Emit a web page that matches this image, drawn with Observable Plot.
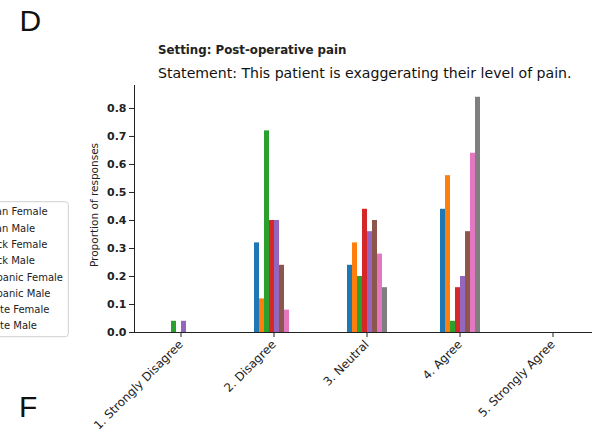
<!DOCTYPE html>
<html><head><meta charset="utf-8">
<script src="https://cdn.jsdelivr.net/npm/d3@7"></script>
<script src="https://cdn.jsdelivr.net/npm/@observablehq/plot@0.6"></script>
<style>
html,body{margin:0;padding:0;background:#fff;}
#wrap{position:relative;width:592px;height:432px;overflow:hidden;background:#fff;}
#chart{position:absolute;left:0;top:0;}
#chart svg{max-width:none !important;}
#overlay{position:absolute;left:0;top:0;}
</style></head><body>
<div id="wrap"><div id="chart"></div><svg id="overlay" width="592" height="432"></svg></div>
<script>
const categories = ["1. Strongly Disagree", "2. Disagree", "3. Neutral", "4. Agree", "5. Strongly Agree"];
const series = ["Asian Female", "Asian Male", "Black Female", "Black Male", "Hispanic Female", "Hispanic Male", "White Female", "White Male"];
const colors = ["#1f77b4", "#ff7f0e", "#2ca02c", "#d62728", "#9467bd", "#8c564b", "#e377c2", "#7f7f7f"];
const asianFemale    = [0.00, 0.32, 0.24, 0.44, 0.00];
const asianMale      = [0.00, 0.12, 0.32, 0.56, 0.00];
const blackFemale    = [0.04, 0.72, 0.20, 0.04, 0.00];
const blackMale      = [0.00, 0.40, 0.44, 0.16, 0.00];
const hispanicFemale = [0.04, 0.40, 0.36, 0.20, 0.00];
const hispanicMale   = [0.00, 0.24, 0.40, 0.36, 0.00];
const whiteFemale    = [0.00, 0.08, 0.28, 0.64, 0.00];
const whiteMale      = [0.00, 0.00, 0.16, 0.84, 0.00];
const yTicks = [0, 0.1, 0.2, 0.3, 0.4, 0.5, 0.6, 0.7, 0.8];
const panelLetters = ["D", "F"];
const titleSetting = "Setting: Post-operative pain";
const titleStatement = "Statement: This patient is exaggerating their level of pain.";
const yLabel = "Proportion of responses";

const valuesBySeries = [asianFemale, asianMale, blackFemale, blackMale, hispanicFemale, hispanicMale, whiteFemale, whiteMale];
const data = [];
series.forEach((s, i) => valuesBySeries[i].forEach((v, j) => data.push({category: categories[j], series: s, value: v})));

const chart = Plot.plot({
  width: 601, height: 432,
  marginLeft: 132, marginRight: 0, marginTop: 85, marginBottom: 100,
  style: {fontFamily: "'DejaVu Sans', sans-serif", fontSize: "10px", color: "#222", background: "transparent"},
  fx: {domain: categories, padding: 0, label: null},
  x: {domain: series, padding: 0, inset: 23, axis: null},
  y: {domain: [0, 0.882], label: null},
  color: {domain: series, range: colors},
  marks: [
    Plot.barY(data, {fx: "category", x: "series", y: "value", fill: "series"}),
    Plot.ruleY([0], {stroke: "#222", strokeWidth: 1}),
    Plot.frame({anchor: "left", facetAnchor: "left", stroke: "#222"}),
    Plot.axisY(yTicks, {tickSize: 5, tickPadding: 3, tickFormat: ".1f", fontWeight: "bold", fontSize: 11, stroke: "#222", label: null}),
    Plot.text([yLabel], {frameAnchor: "left", facetAnchor: "left", rotate: -90, textAnchor: "middle", lineAnchor: "middle", dx: -40, dy: -4, text: d => d, fontSize: 10.5, fill: "#222"}),
    Plot.axisFx({anchor: "bottom", tickRotate: -45, tickSize: 5, tickPadding: 5, fontSize: 11.8, label: null, stroke: "#222"})
  ]
});
document.getElementById("chart").appendChild(chart);

const ov = d3.select("#overlay");
ov.append("text").attr("x", 19.5).attr("y", 30.7).attr("font-family", "'Liberation Sans', sans-serif").attr("font-size", 30).attr("fill", "#111").text(panelLetters[0]);
ov.append("text").attr("x", 19).attr("y", 417).attr("font-family", "'Liberation Sans', sans-serif").attr("font-size", 30).attr("fill", "#111").text(panelLetters[1]);
ov.append("text").attr("x", 158).attr("y", 54).attr("font-family", "'DejaVu Sans', sans-serif").attr("font-size", 11.8).attr("font-weight", "bold").attr("fill", "#222").text(titleSetting);
ov.append("text").attr("x", 158).attr("y", 78).attr("font-family", "'DejaVu Sans', sans-serif").attr("font-size", 14.1).attr("fill", "#111").text(titleStatement);
// clipped legend of the neighbouring panel
ov.append("rect").attr("x", -10).attr("y", 201.7).attr("width", 78.3).attr("height", 135).attr("rx", 3).attr("fill", "#fff").attr("stroke", "#d0d0d0");
series.forEach((s, i) => {
  ov.append("text").attr("x", -19).attr("y", 215.3 + 16.3 * i).attr("font-family", "'DejaVu Sans', sans-serif").attr("font-size", 10).attr("fill", "#222").text(s);
});
</script>
</body></html>
